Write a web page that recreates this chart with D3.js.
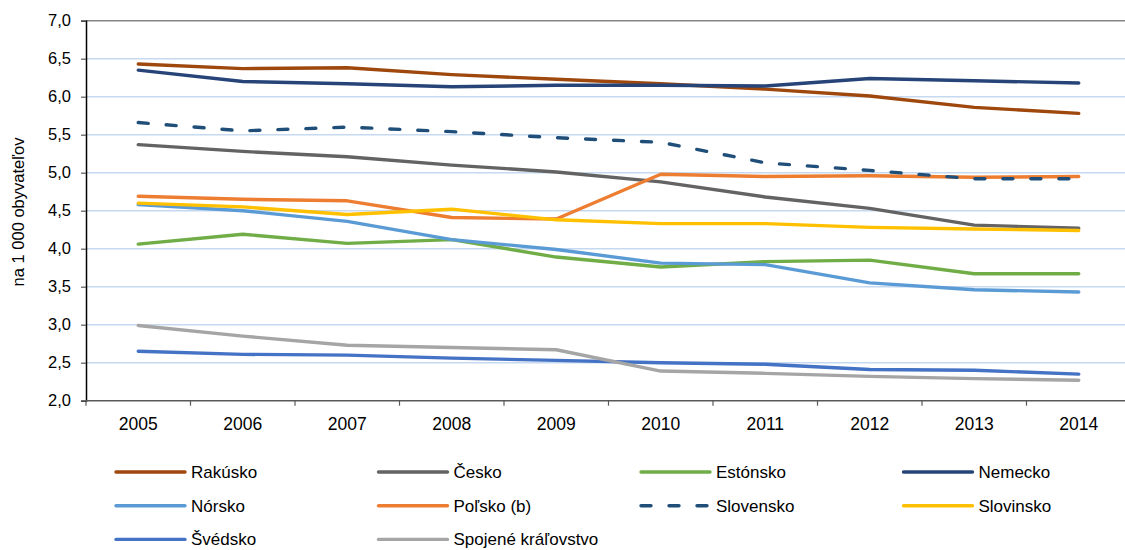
<!DOCTYPE html>
<html>
<head>
<meta charset="utf-8">
<script src="https://cdn.jsdelivr.net/npm/d3@7"></script>
<style>
  body { margin: 0; background: #fff; }
  svg { display: block; font-family: "Liberation Sans", Arial, sans-serif; }
</style>
</head>
<body>
<script>
"use strict";

var years = ["2005", "2006", "2007", "2008", "2009", "2010", "2011", "2012", "2013", "2014"];
var yTicks = [2.0, 2.5, 3.0, 3.5, 4.0, 4.5, 5.0, 5.5, 6.0, 6.5, 7.0];

var names = ["Rakúsko", "Česko", "Estónsko", "Nemecko", "Nórsko", "Poľsko (b)",
             "Slovensko", "Slovinsko", "Švédsko", "Spojené kráľovstvo"];
var colors = ["#9e480e", "#636363", "#70ad47", "#264478", "#5b9bd5", "#ed7d31",
              "#1f4e79", "#ffc000", "#4472c4", "#a5a5a5"];

var rakusko   = [6.43, 6.37, 6.38, 6.29, 6.23, 6.17, 6.10, 6.01, 5.86, 5.78];
var cesko     = [5.37, 5.28, 5.21, 5.10, 5.01, 4.88, 4.68, 4.53, 4.31, 4.27];
var estonsko  = [4.06, 4.19, 4.07, 4.12, 3.89, 3.76, 3.83, 3.85, 3.67, 3.67];
var nemecko   = [6.35, 6.20, 6.17, 6.13, 6.15, 6.15, 6.14, 6.24, 6.21, 6.18];
var norsko    = [4.58, 4.50, 4.36, 4.12, 3.99, 3.81, 3.79, 3.55, 3.46, 3.43];
var polsko    = [4.69, 4.65, 4.63, 4.41, 4.39, 4.98, 4.95, 4.96, 4.94, 4.95];
var slovensko = [5.66, 5.55, 5.60, 5.54, 5.46, 5.40, 5.13, 5.03, 4.92, 4.92];
var slovinsko = [4.60, 4.55, 4.45, 4.52, 4.38, 4.33, 4.33, 4.28, 4.26, 4.24];
var svedsko   = [2.65, 2.61, 2.60, 2.56, 2.53, 2.50, 2.48, 2.41, 2.40, 2.35];
var uk        = [2.99, 2.85, 2.73, 2.70, 2.67, 2.39, 2.36, 2.32, 2.29, 2.27];

var values = [rakusko, cesko, estonsko, nemecko, norsko, polsko, slovensko, slovinsko, svedsko, uk];
var series = names.map(function(n, i) {
    return { name: n, color: colors[i], values: values[i], dashed: n === "Slovensko" };
});

var width = 1125, height = 550;

var x = d3.scaleBand().domain(years).range([86, 1131]).padding(0);
var y = d3.scaleLinear().domain([2, 7]).range([400.7, 20.7]);

var svg = d3.select("body").append("svg")
    .attr("width", width)
    .attr("height", height);

// gridlines
svg.append("g").selectAll("line")
    .data(yTicks.filter(function(d) { return d > 2; }))
    .enter().append("line")
        .attr("x1", 86).attr("x2", width)
        .attr("y1", function(d) { return y(d); })
        .attr("y2", function(d) { return y(d); })
        .attr("stroke", function(d) { return d === 7 ? "#868686" : "#c6d9f0"; })
        .attr("stroke-width", 1.5);

// y axis
var yAxis = svg.append("g")
    .attr("transform", "translate(86,0)")
    .call(d3.axisLeft(y).tickValues(yTicks).tickSize(5).tickPadding(10)
        .tickFormat(function(d) { return d3.format(".1f")(d).replace(".", ","); }));
yAxis.select(".domain").attr("stroke", "#000").attr("stroke-width", 1.5);
yAxis.selectAll(".tick line").attr("stroke", "#595959").attr("stroke-width", 1.2);
yAxis.selectAll("text").attr("font-size", 16.5).attr("fill", "#000")
    .attr("font-family", "Liberation Sans, Arial, sans-serif");

// x axis
var xg = svg.append("g");
xg.append("line")
    .attr("x1", 86).attr("x2", width)
    .attr("y1", y(2)).attr("y2", y(2))
    .attr("stroke", "#595959").attr("stroke-width", 1.5);
xg.selectAll("line.tick")
    .data(years)
    .enter().append("line")
        .attr("class", "tick")
        .attr("x1", function(d) { return x(d); })
        .attr("x2", function(d) { return x(d); })
        .attr("y1", y(2)).attr("y2", y(2) + 5)
        .attr("stroke", "#595959").attr("stroke-width", 1.2);
xg.selectAll("text")
    .data(years)
    .enter().append("text")
        .attr("x", function(d) { return x(d) + x.bandwidth() / 2; })
        .attr("y", 429.5)
        .attr("text-anchor", "middle")
        .attr("font-size", 17.5)
        .text(function(d) { return d; });

// y axis title
svg.append("text")
    .attr("transform", "translate(24,212) rotate(-90)")
    .attr("text-anchor", "middle")
    .attr("font-size", 16.5)
    .text("na 1 000 obyvateľov");

var line = d3.line()
    .x(function(d, i) { return x(years[i]) + x.bandwidth() / 2; })
    .y(function(d) { return y(d); });

svg.append("g").selectAll("path")
    .data(series)
    .enter().append("path")
        .attr("d", function(d) { return line(d.values); })
        .attr("fill", "none")
        .attr("stroke", function(d) { return d.color; })
        .attr("stroke-width", 3.4)
        .attr("stroke-linecap", "round")
        .attr("stroke-linejoin", "round")
        .attr("stroke-dasharray", function(d) { return d.dashed ? "10,18" : null; });

// legend
var legend = svg.append("g").selectAll("g")
    .data(series)
    .enter().append("g")
        .attr("transform", function(d, i) {
            return "translate(" + (115 + (i % 4) * 262.5) + "," + (472 + Math.floor(i / 4) * 33.7) + ")";
        });
legend.append("line")
    .attr("x1", 1).attr("x2", 70)
    .attr("stroke", function(d) { return d.color; })
    .attr("stroke-width", 3.4)
    .attr("stroke-linecap", "round")
    .attr("stroke-dasharray", function(d) { return d.dashed ? "10,18" : null; });
legend.append("text")
    .attr("x", 76).attr("y", 6)
    .attr("font-size", 17)
    .text(function(d) { return d.name; });
</script>
</body>
</html>
